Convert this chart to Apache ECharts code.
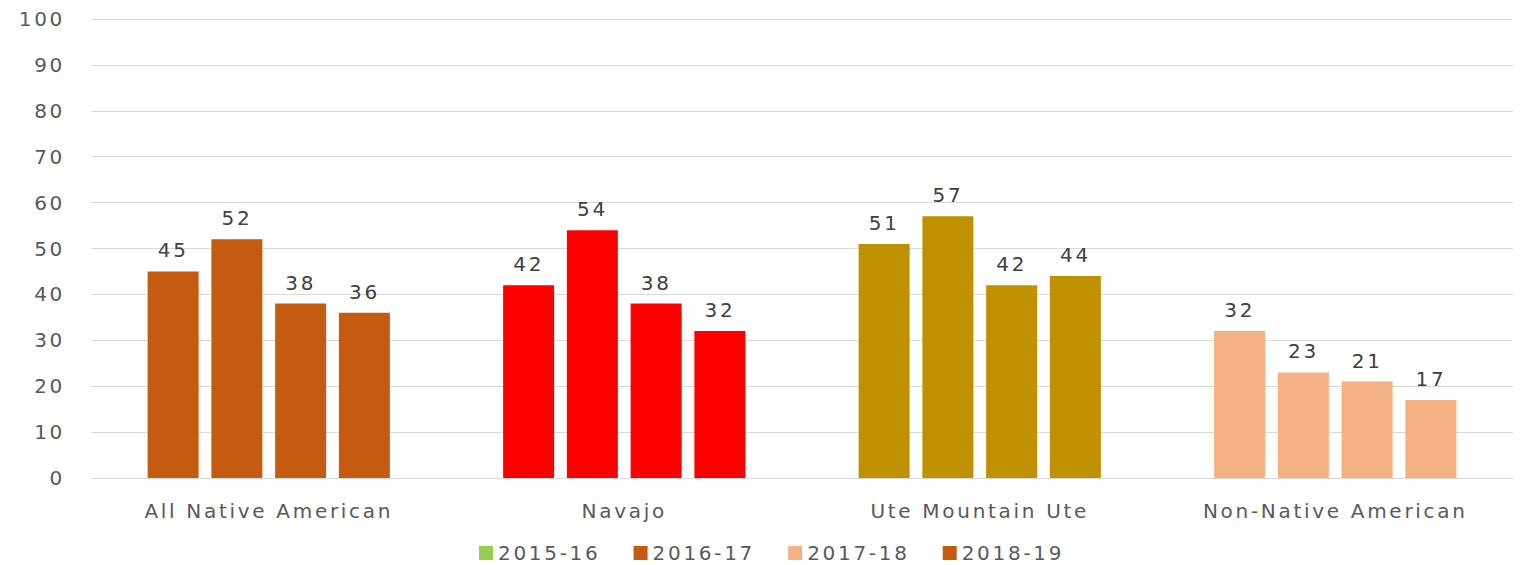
<!DOCTYPE html>
<html>
<head>
<meta charset="utf-8">
<script src="https://cdn.jsdelivr.net/npm/echarts@6/dist/echarts.min.js"></script>
<style>
  html, body { margin: 0; padding: 0; background: #fff; }
  #chart { width: 1525px; height: 565px; }
  /* the source text is drawn wider than DejaVu, so space the letters out */
  #chart svg text { letter-spacing: 2.7px; }
</style>
</head>
<body>
<div id="chart"></div>
<script>
let categories = ["All Native American", "Navajo", "Ute Mountain Ute", "Non-Native American"];
let years = ["2015-16", "2016-17", "2017-18", "2018-19"];
// one array per year, one value per category
let v2015 = [45, 42, 51, 32];
let v2016 = [52, 54, 57, 23];
let v2017 = [38, 38, 42, 21];
let v2018 = [36, 32, 44, 17];
let yTicks = [0, 10, 20, 30, 40, 50, 60, 70, 80, 90, 100];

let catColors = ["#c55a11", "#ff0000", "#bf9000", "#f4b183"];
let legendColors = ["#92d050", "#c55a11", "#f4b183", "#c55a11"];
let font = "DejaVu Sans";
let textColor = "#595959";

let chart = echarts.init(document.getElementById("chart"), null, { renderer: "svg" });

let makeSeries = (name, values, i) => ({
  name: name,
  type: "bar",
  color: legendColors[i],
  barWidth: 51,
  barGap: "25%",
  data: values.map((v, c) => ({ value: v, itemStyle: { color: catColors[c] } })),
  label: {
    show: true,
    position: "top",
    distance: 11,
    color: "#404040",
    fontFamily: font,
    fontSize: 20,
  },
});

let option = {
  animation: false,
  grid: { left: 91, right: 12, top: 19, bottom: 87 },
  legend: {
    top: 538,
    left: 474,
    itemWidth: 14,
    itemHeight: 14,
    itemGap: 52,
    icon: "rect",
    textStyle: { color: textColor, fontFamily: font, fontSize: 20 },
    data: years,
  },
  xAxis: {
    type: "category",
    data: categories,
    axisTick: { show: false },
    axisLine: { lineStyle: { color: "#d9d9d9" } },
    axisLabel: { color: textColor, fontFamily: font, fontSize: 20, margin: 23 },
  },
  yAxis: {
    type: "value",
    min: yTicks[0],
    max: yTicks[yTicks.length - 1],
    interval: 10,
    axisLine: { show: false },
    axisTick: { show: false },
    splitLine: { lineStyle: { color: "#d9d9d9", width: 1 } },
    axisLabel: { color: textColor, fontFamily: font, fontSize: 20, margin: 26 },
  },
  series: [
    makeSeries(years[0], v2015, 0),
    makeSeries(years[1], v2016, 1),
    makeSeries(years[2], v2017, 2),
    makeSeries(years[3], v2018, 3),
  ],
};
chart.setOption(option);
</script>
</body>
</html>
